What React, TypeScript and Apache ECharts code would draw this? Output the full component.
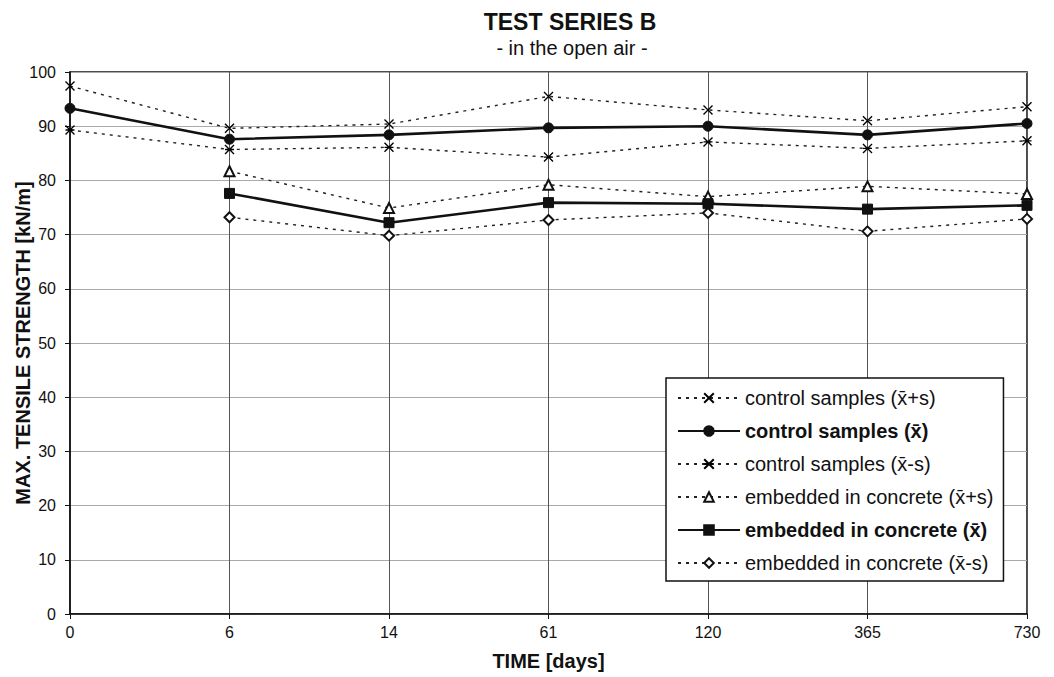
import React, { useEffect, useRef } from "react";
import * as echarts from "echarts";

const days = ["0", "6", "14", "61", "120", "365", "730"];
const controlPlus = [97.4, 89.6, 90.4, 95.5, 93.0, 91.0, 93.6];
const controlMean = [93.3, 87.6, 88.4, 89.7, 90.0, 88.4, 90.5];
const controlMinus = [89.3, 85.7, 86.1, 84.3, 87.1, 85.9, 87.3];
const embeddedPlus = [null, 81.7, 74.9, 79.2, 77.0, 78.9, 77.5];
const embeddedMean = [null, 77.6, 72.2, 75.9, 75.7, 74.7, 75.4];
const embeddedMinus = [null, 73.2, 69.8, 72.7, 74.0, 70.6, 72.9];
const seriesNames = [
  "control samples (x\u0304+s)",
  "control samples (x\u0304)",
  "control samples (x\u0304-s)",
  "embedded in concrete (x\u0304+s)",
  "embedded in concrete (x\u0304)",
  "embedded in concrete (x\u0304-s)",
];

const FONT = "'Liberation Sans', Arial, sans-serif";
const NARROW = "'Liberation Sans Narrow', 'Liberation Sans', Arial, sans-serif";

export default function App() {
  const ref = useRef<HTMLDivElement>(null);
  useEffect(() => {
    if (!ref.current) return;
    const chart = echarts.init(ref.current, null, { renderer: "svg" });
    const dashed = { color: "#222", width: 1.4, type: [3, 5] as any };
    const solid = { color: "#111", width: 2.6, type: "solid" as any };
    const crossPath = "path://M0,0L10,10M10,0L0,10";
    const starPath = "path://M0,0L10,10M10,0L0,10M0,5L10,5";
    const mk = (name: string, data: any[], ls: any, symbol: string, size: number, style: any) => ({
      name,
      type: "line",
      data,
      lineStyle: ls,
      symbol,
      symbolSize: size,
      itemStyle: style,
      connectNulls: false,
      z: ls.width > 2 ? 4 : 3,
    });
    const strokeOnly = { color: "#000", borderColor: "#000", borderWidth: 1.4 };
    const filled = { color: "#111", borderColor: "#111", borderWidth: 1 };
    const empty = { color: "#111", borderColor: "#111", borderWidth: 1.4 };
    chart.setOption({
      animation: false,
      backgroundColor: "#fff",
      textStyle: { fontFamily: FONT },
      title: [
        {
          text: "TEST SERIES B",
          left: 565,
          top: 5,
          textAlign: "center",
          textStyle: { fontFamily: FONT, fontSize: 23, fontWeight: "bold", color: "#111" },
        },
        {
          text: "- in the open air -",
          left: 567,
          top: 33,
          textAlign: "center",
          textStyle: { fontFamily: FONT, fontSize: 20, fontWeight: "normal", color: "#111" },
        },
      ],
      grid: {
        left: 70,
        right: 27,
        top: 72,
        bottom: 63,
        show: true,
        containLabel: false,
        outerBoundsMode: "none",
        borderColor: "#111",
        borderWidth: 1.5,
        backgroundColor: "transparent",
      },
      legend: {
        orient: "vertical",
        left: 666,
        top: 378,
        padding: [10, 10, 8, 11],
        itemWidth: 62,
        itemHeight: 12,
        itemGap: 13,
        borderColor: "#111",
        borderWidth: 1.5,
        backgroundColor: "#fff",
        textStyle: { fontFamily: FONT, fontSize: 20, color: "#111" },
        data: seriesNames.map((n, i) => ({
          name: n,
          textStyle: { fontWeight: i === 1 || i === 4 ? "bold" : "normal" },
        })),
      },
      xAxis: {
        type: "category",
        data: days,
        boundaryGap: false,
        name: "TIME [days]",
        nameLocation: "middle",
        nameGap: 37,
        nameMoveOverlap: false,
        nameTextStyle: { fontFamily: FONT, fontSize: 20, fontWeight: "bold", color: "#111" },
        axisLine: { lineStyle: { color: "#111", width: 1.5 } },
        axisTick: { show: true, length: 5, lineStyle: { color: "#111" } },
        axisLabel: { fontFamily: NARROW, fontSize: 16, color: "#111", margin: 10 },
        splitLine: { show: true, lineStyle: { color: "#555", width: 1 } },
      },
      yAxis: {
        type: "value",
        min: 0,
        max: 100,
        interval: 10,
        name: "MAX. TENSILE STRENGTH [kN/m]",
        nameLocation: "middle",
        nameGap: 37,
        nameMoveOverlap: false,
        nameTextStyle: { fontFamily: FONT, fontSize: 20, fontWeight: "bold", color: "#111" },
        axisLine: { show: true, lineStyle: { color: "#111", width: 1.5 } },
        axisTick: { show: true, length: 5, lineStyle: { color: "#111" } },
        axisLabel: { fontFamily: NARROW, fontSize: 16, color: "#111", margin: 14 },
        splitLine: { show: true, lineStyle: { color: "#aaa", width: 1 } },
      },
      series: [
        mk(seriesNames[0], controlPlus, dashed, crossPath, 9, strokeOnly),
        mk(seriesNames[1], controlMean, solid, "circle", 10, filled),
        mk(seriesNames[2], controlMinus, dashed, starPath, 9, strokeOnly),
        mk(seriesNames[3], embeddedPlus, dashed, "emptyTriangle", 10, empty),
        mk(seriesNames[4], embeddedMean, solid, "rect", 10, filled),
        mk(seriesNames[5], embeddedMinus, dashed, "emptyDiamond", 10, empty),
      ],
    });
    return () => chart.dispose();
  }, []);
  return (
    <div
      ref={ref}
      style={{ position: "fixed", left: 0, top: 0, width: 1054, height: 677, background: "#fff" }}
    />
  );
}
